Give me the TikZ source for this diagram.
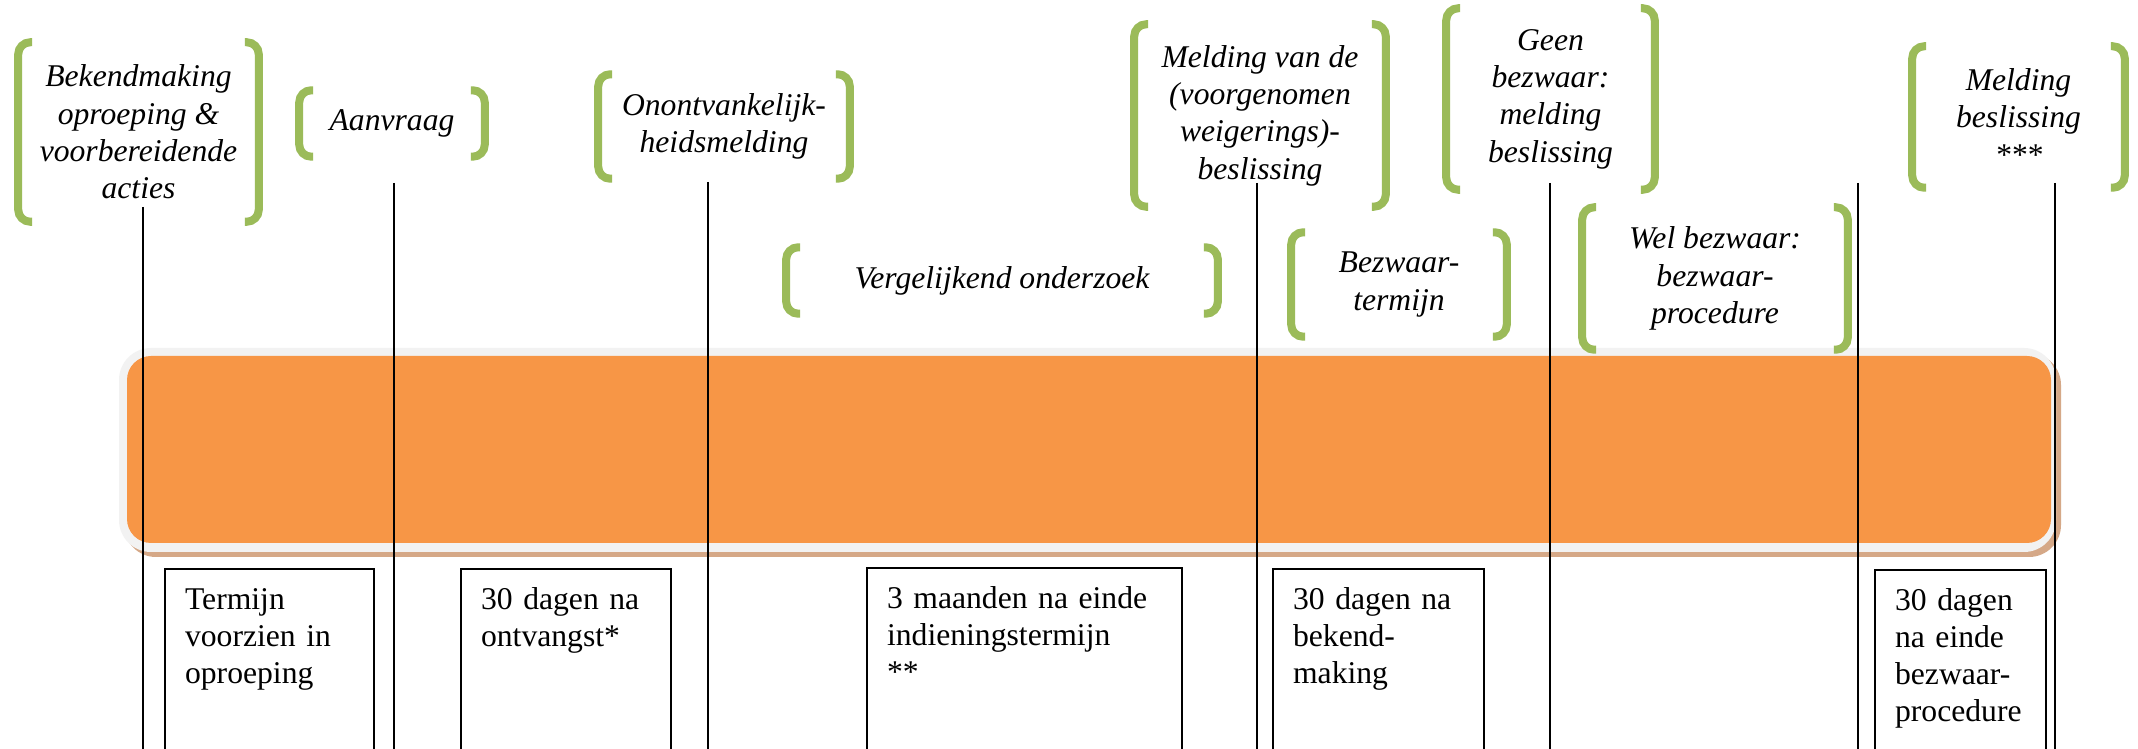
\documentclass[tikz,border=0pt]{standalone}
\usepackage{fontspec}
\setmainfont{Liberation Serif}
\usetikzlibrary{calc}

\definecolor{barorange}{HTML}{F79646}
\definecolor{brkgreen}{HTML}{9BBB59}
\definecolor{barrim}{HTML}{F2F2F2}
\definecolor{barshadow}{HTML}{D5A887}

\begin{document}
\begin{tikzpicture}[
        x=0.01cm, y=-0.01cm,
        phase/.style={font=\fontsize{9pt}{10.6pt}\selectfont\itshape, align=center, inner sep=0pt},
        bracketline/.style={draw=brkgreen, line width=0.08cm, rounded corners=0.12cm},
        termbox/.style={draw, line width=0.6pt, anchor=north west, align=left,
            font=\fontsize{9pt}{10.6pt}\selectfont, inner xsep=0.2cm, inner ysep=0pt,
            text height=0.4cm, text depth=1.6cm},
        timeline/.style={line width=0.6pt},
        ]
        \useasboundingbox[fill=white] (0,0) rectangle (2138,749);
        \clip (0,0) rectangle (2138,749);

        %Bar
        \fill[barshadow, rounded corners=0.32cm] (124,353) rectangle (2061,557);
        \fill[barrim, rounded corners=0.32cm]    (119,348) rectangle (2056,552);
        \fill[barorange, rounded corners=0.24cm] (127,356) rectangle (2051,543);

        %Lines
        \coordinate (base) at (0,760);
        \foreach \x/\y [count=\i] in {143/207, 394/183, 708/182, 1257/183, 1550/183, 1858/183, 2055/183} {
            \coordinate (mark\i) at (\x,\y);
            \draw[timeline] (mark\i) -- (mark\i |- base);
        }

        %Phases
        \node[phase, minimum width=2.47cm, minimum height=1.86cm] (bek)  at (138.5,132)  {Bekendmaking\\oproeping \&\\voorbereidende\\acties};
        \node[phase, minimum width=1.92cm, minimum height=0.73cm] (aan)  at (392,123.5)  {Aanvraag};
        \node[phase, minimum width=2.58cm, minimum height=1.11cm] (onon) at (724,126.5)  {Onontvankelijk-\\heidsmelding};
        \node[phase, minimum width=4.38cm, minimum height=0.73cm] (verg) at (1002,280.5) {Vergelijkend onderzoek};
        \node[phase, minimum width=2.58cm, minimum height=1.89cm] (mvd)  at (1260,115.5) {Melding van de\\(voorgenomen\\weigerings)-\\beslissing};
        \node[phase, minimum width=2.15cm, minimum height=1.88cm] (geen) at (1550.5,99)  {Geen\\bezwaar:\\melding\\beslissing};
        \node[phase, minimum width=2.22cm, minimum height=1.11cm] (btm)  at (1399,284.5) {Bezwaar-\\termijn};
        \node[phase, minimum width=2.72cm, minimum height=1.49cm] (wel)  at (1715,278.5) {Wel bezwaar:\\bezwaar-\\procedure};
        \node[phase, minimum width=2.19cm, minimum height=1.48cm] (mb)   at (2018.5,117) {Melding\\beslissing\\{}***};

        \foreach \n in {bek, aan, onon, verg, mvd, geen, btm, wel, mb} {
            \draw[bracketline] ($(\n.north west)+(18,4)$) -- ++(-14,0) -- ($(\n.south west)+(4,-4)$) -- ++(14,0);
            \draw[bracketline] ($(\n.north east)+(-18,4)$) -- ++(14,0) -- ($(\n.south east)+(-4,-4)$) -- ++(-14,0);
        }

        %Terms
        \node[termbox, text width=1.69cm] (t1) at (164,568)  {Termijn\\voorzien in\\oproeping};
        \node[termbox, text width=1.70cm] (t2) at (460,568)  {30 dagen na\\ontvangst*};
        \node[termbox, text width=2.75cm] (t3) at (866,567)  {3 maanden na einde\\indieningstermijn\\{}**};
        \node[termbox, text width=1.71cm] (t4) at (1272,568) {30 dagen na\\bekend-\\making};
        \node[termbox, text width=1.31cm] (t5) at (1874,569) {30 dagen\\na einde\\bezwaar-\\procedure};
    \end{tikzpicture}
\end{document}
